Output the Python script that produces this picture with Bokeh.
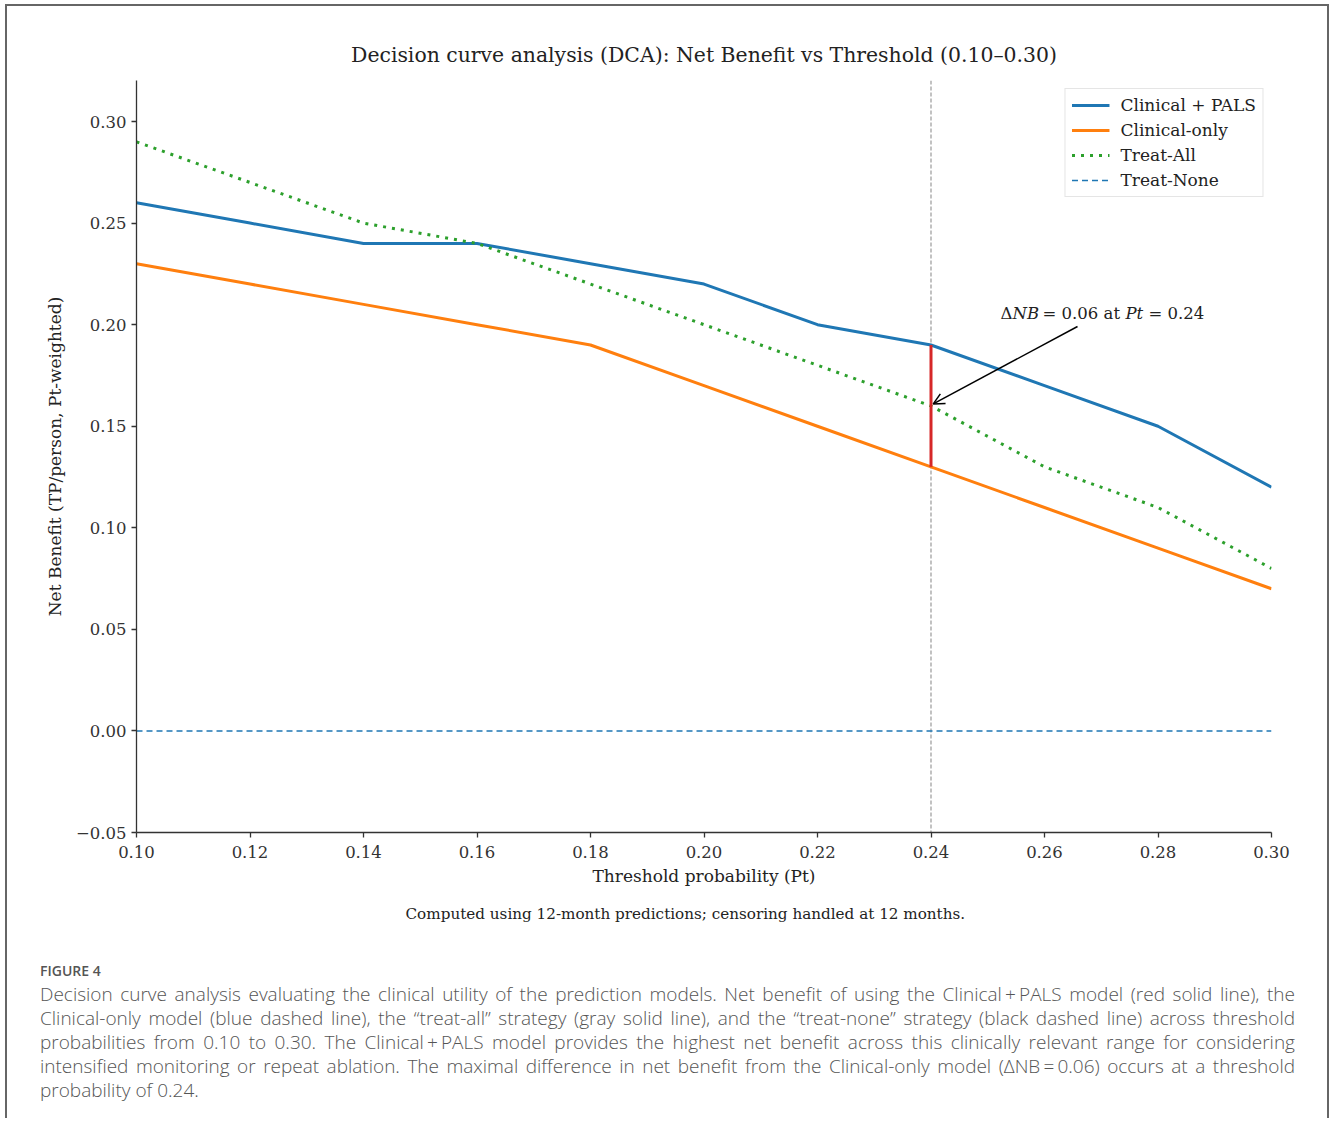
from bokeh.plotting import figure
from bokeh.models import Legend, LegendItem, Span, Label, Arrow, OpenHead, FixedTicker, Div, Range1d, Title
from bokeh.layouts import column
from bokeh.embed import file_html
from bokeh.resources import INLINE

# ---------------- data ----------------
thresholds = [0.10, 0.12, 0.14, 0.16, 0.18, 0.20, 0.22, 0.24, 0.26, 0.28, 0.30]
clinical_pals = [0.26, 0.25, 0.24, 0.24, 0.23, 0.22, 0.20, 0.19, 0.17, 0.15, 0.12]
clinical_only = [0.23, 0.22, 0.21, 0.20, 0.19, 0.17, 0.15, 0.13, 0.11, 0.09, 0.07]
treat_all = [0.29, 0.27, 0.25, 0.24, 0.22, 0.20, 0.18, 0.16, 0.13, 0.11, 0.08]
treat_none = [0.0, 0.0, 0.0, 0.0, 0.0, 0.0, 0.0, 0.0, 0.0, 0.0, 0.0]
series_names = ["Clinical + PALS", "Clinical-only", "Treat-All", "Treat-None"]
x_ticks = [0.10, 0.12, 0.14, 0.16, 0.18, 0.20, 0.22, 0.24, 0.26, 0.28, 0.30]
x_tick_labels = ["0.10", "0.12", "0.14", "0.16", "0.18", "0.20", "0.22", "0.24", "0.26", "0.28", "0.30"]
y_ticks = [-0.05, 0.0, 0.05, 0.10, 0.15, 0.20, 0.25, 0.30]
y_tick_labels = ["\u22120.05", "0.00", "0.05", "0.10", "0.15", "0.20", "0.25", "0.30"]
highlight_pt = 0.24
delta_nb = 0.06

title_text = "Decision curve analysis (DCA): Net Benefit vs Threshold (0.10\u20130.30)"
x_label = "Threshold probability (Pt)"
y_label = "Net Benefit (TP/person, Pt-weighted)"
footnote = "Computed using 12-month predictions; censoring handled at 12 months."

SERIF = "DejaVu Serif"

# ---------------- figure ----------------
X0, X1 = 0.10, 0.30
Y0, Y1 = -0.05, 0.3202
FL, FR, FT, FB = 136, 1271, 80, 832  # frame in page pixels
OX, OY = 7, 6                          # figure origin in page pixels
FIG_W, FIG_H = 1320, 932


def px_x(px):
    return X0 + (px - FL) / (FR - FL) * (X1 - X0)


def px_y(py):
    return Y0 + (FB - py) / (FB - FT) * (Y1 - Y0)


p = figure(width=FIG_W, height=FIG_H, x_range=Range1d(X0, X1), y_range=Range1d(Y0, Y1),
           output_backend="svg", toolbar_location=None, title=None,
           min_border_left=FL - OX, min_border_right=OX + FIG_W - FR,
           min_border_top=FT - OY, min_border_bottom=OY + FIG_H - FB)
p.xgrid.visible = False
p.ygrid.visible = False
p.outline_line_color = None
p.background_fill_color = "white"
p.border_fill_color = "white"

p.xaxis.ticker = FixedTicker(ticks=x_ticks)
p.yaxis.ticker = FixedTicker(ticks=y_ticks)
p.xaxis.major_label_overrides = {t: l for t, l in zip(x_ticks, x_tick_labels)}
p.yaxis.major_label_overrides = {t: l for t, l in zip(y_ticks, y_tick_labels)}
p.xaxis.axis_label = x_label
p.yaxis.axis_label = y_label
for ax in (p.xaxis[0], p.yaxis[0]):
    ax.axis_line_color = "#333333"
    ax.axis_line_width = 1.3
    ax.major_tick_line_color = "#333333"
    ax.major_tick_line_width = 1.3
    ax.major_tick_out = 5
    ax.major_tick_in = 0
    ax.minor_tick_line_color = None
    ax.major_label_text_font = SERIF
    ax.major_label_text_font_size = "16.5px"
    ax.major_label_text_color = "#333333"
    ax.axis_label_text_font = SERIF
    ax.axis_label_text_font_size = "17px"
    ax.axis_label_text_font_style = "normal"
    ax.axis_label_text_color = "#222222"
p.yaxis.axis_label_standoff = 8
p.xaxis.major_label_standoff = 8

# title (above) and footnote (below)
p.add_layout(Title(text=title_text, align="center", text_font=SERIF, text_font_size="20.4px",
                   text_font_style="normal", text_color="#222222", standoff=27), "above")
p.add_layout(Title(text=footnote, align="left", offset=405 - FL, text_font=SERIF,
                   text_font_size="15.2px", text_font_style="normal", text_color="#222222",
                   standoff=28), "below")

# vertical reference line
p.add_layout(Span(location=highlight_pt, dimension="height", line_color="#999999",
                  line_width=1.2, line_dash="4 2", level="underlay"))

r_pals = p.line(thresholds, clinical_pals, line_color="#1f77b4", line_width=3)
r_only = p.line(thresholds, clinical_only, line_color="#ff7f0e", line_width=3)
r_all = p.line(thresholds, treat_all, line_color="#2ca02c", line_width=3, line_dash="3 6")
r_none = p.line(thresholds, treat_none, line_color="#1f77b4", line_width=1.6, line_dash="6 4")

idx = thresholds.index(highlight_pt)
p.segment(x0=[highlight_pt], y0=[clinical_only[idx]], x1=[highlight_pt], y1=[clinical_pals[idx]],
          line_color="#d62728", line_width=3)

# arrow annotation
p.add_layout(Arrow(end=OpenHead(size=11, line_width=1.5, line_color="black"),
                   x_start=px_x(1077), y_start=px_y(326),
                   x_end=highlight_pt + 0.0004, y_end=treat_all[idx] + 0.001,
                   line_color="black", line_width=1.5))

ann_font_size = "16.5px"
ann_y = px_y(313)
ann_parts = [
    ("\u0394", 1000, "normal"),
    ("NB", 1012, "italic"),
    ("= %.2f at" % delta_nb, 1042, "normal"),
    ("Pt", 1125, "italic"),
    ("= %.2f" % highlight_pt, 1148, "normal"),
]
for txt, xpx, style in ann_parts:
    p.add_layout(Label(x=px_x(xpx), y=ann_y, text=txt, text_font=SERIF,
                       text_font_size=ann_font_size, text_font_style=style,
                       text_baseline="middle", text_align="left", text_color="#222222"))

legend = Legend(items=[LegendItem(label=series_names[0], renderers=[r_pals]),
                       LegendItem(label=series_names[1], renderers=[r_only]),
                       LegendItem(label=series_names[2], renderers=[r_all]),
                       LegendItem(label=series_names[3], renderers=[r_none])],
                location="top_right", margin=8, padding=6, spacing=5,
                label_height=20, glyph_height=20, glyph_width=38, label_standoff=11,
                label_text_font=SERIF, label_text_font_size="17px", label_text_color="#222222",
                border_line_color="#cccccc", border_line_width=1,
                background_fill_color="white", background_fill_alpha=0.85)
p.add_layout(legend)

# ---------------- caption ----------------
cap_lines = [
    "Decision curve analysis evaluating the clinical utility of the prediction models. Net benefit of using the Clinical\u2009+\u2009PALS model (red solid line), the",
    "Clinical-only model (blue dashed line), the \u201ctreat-all\u201d strategy (gray solid line), and the \u201ctreat-none\u201d strategy (black dashed line) across threshold",
    "probabilities from 0.10 to 0.30. The Clinical\u2009+\u2009PALS model provides the highest net benefit across this clinically relevant range for considering",
    "intensified monitoring or repeat ablation. The maximal difference in net benefit from the Clinical-only model (\u0394NB\u2009=\u20090.06) occurs at a threshold",
    "probability of 0.24.",
]
line_divs = []
for i, ln in enumerate(cap_lines):
    last = i == len(cap_lines) - 1
    align = "left" if last else "justify"
    line_divs.append('<div style="white-space:nowrap;text-align:%s;text-align-last:%s;">%s</div>'
                     % (align, align, ln))
html = ('<div style="box-sizing:border-box;width:%dpx;padding:23px 32px 0 33px;'
        'font-family:\'Open Sans\';color:#555555;">' % FIG_W +
        '<div style="font-size:14px;font-weight:600;line-height:20px;margin-bottom:1px;">FIGURE 4</div>'
        '<div style="font-size:19px;font-weight:300;line-height:24px;">' + "".join(line_divs) + '</div></div>')
cap = Div(text=html, width=FIG_W, height=180, margin=(0, 0, 0, 0))

layout = column(p, cap, spacing=0, margin=(OY - 2, 0, 0, OX - 2),
                styles={"border-left": "2px solid #666666", "border-top": "2px solid #666666",
                        "border-right": "2px solid #666666"})

open("out.html", "w").write(file_html(layout, INLINE))
